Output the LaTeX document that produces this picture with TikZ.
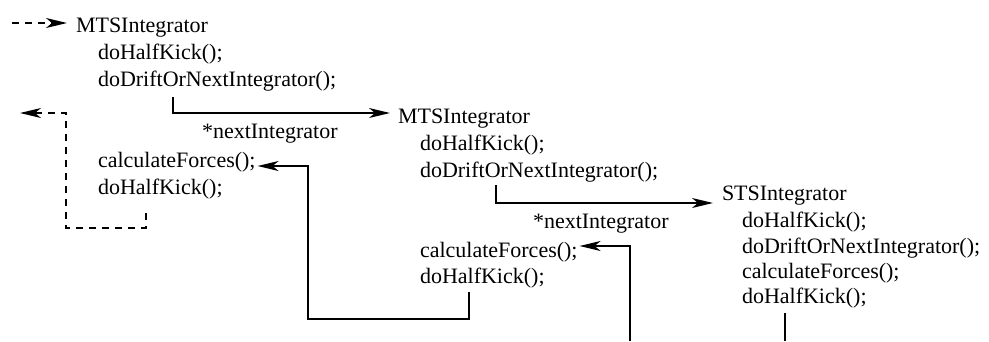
\documentclass[tikz,border=0pt]{standalone}
\usepackage{fontspec}
\setmainfont{Liberation Serif}
\usetikzlibrary{arrows.meta}
\begin{document}
\begin{tikzpicture}[x=1pt,y=-1pt,
  txt/.style={anchor=base west,inner sep=0pt,outer sep=0pt,font=\fontsize{22}{26}\selectfont},
  line/.style={line width=1.7pt},
  conn/.style={line,-{Stealth[length=21pt,width=10pt,inset=6pt]}},
  dsh/.style={dash pattern=on 7pt off 6pt}]
\useasboundingbox (0,0) rectangle (989,341);
% column 1
\node[txt] (H1) at (76,32) {MTSIntegrator};
\node[txt] (a1) at (98,59) {doHalfKick();};
\node[txt] (b1) at (98,86) {doDriftOrNextIntegrator();};
\node[txt] (n1) at (202,138) {*nextIntegrator};
\node[txt] (c1) at (98,167) {calculateForces();};
\node[txt] (k1) at (98,194) {doHalfKick();};
% column 2
\node[txt] (H2) at (398,123) {MTSIntegrator};
\node[txt] (a2) at (420,150) {doHalfKick();};
\node[txt] (b2) at (420,177) {doDriftOrNextIntegrator();};
\node[txt] (n2) at (533,228) {*nextIntegrator};
\node[txt] (c2) at (420,257) {calculateForces();};
\node[txt] (k2) at (420,283) {doHalfKick();};
% column 3
\node[txt] (H3) at (722,200) {STSIntegrator};
\node[txt] (a3) at (742,227) {doHalfKick();};
\node[txt] (b3) at (742,253) {doDriftOrNextIntegrator();};
\node[txt] (c3) at (742,278) {calculateForces();};
\node[txt] (k3) at (742,303) {doHalfKick();};
% free ends and corners
\coordinate (s0) at (12,23);
\coordinate (dl) at (20,113);
\coordinate (dc1) at (66,228);
\coordinate (sc1) at (308,319);
\coordinate (bot2) at (630,341);
\coordinate (bot3) at (785,341);
% connectors
\draw[conn,dsh] (s0) -- ([xshift=-9pt,yshift=9pt]H1.base west);
\draw[conn] ([xshift=75pt,yshift=-11pt]b1.base west) |- ([xshift=-8pt,yshift=10pt]H2.base west);
\draw[conn] ([xshift=76pt,yshift=-8pt]b2.base west) |- ([xshift=-9pt,yshift=-3pt]H3.base west);
\draw[conn,dsh] ([xshift=48pt,yshift=-19pt]k1.base west) |- (dc1) |- (dl);
\draw[conn] ([xshift=49pt,yshift=-9pt]k2.base west) |- (sc1) |- ([xshift=2pt,yshift=1pt]c1.base east);
\draw[conn] (bot2) |- ([xshift=2pt,yshift=11pt]c2.base east);
\draw[line] ([xshift=43pt,yshift=-10pt]k3.base west) -- (bot3);
\end{tikzpicture}
\end{document}
